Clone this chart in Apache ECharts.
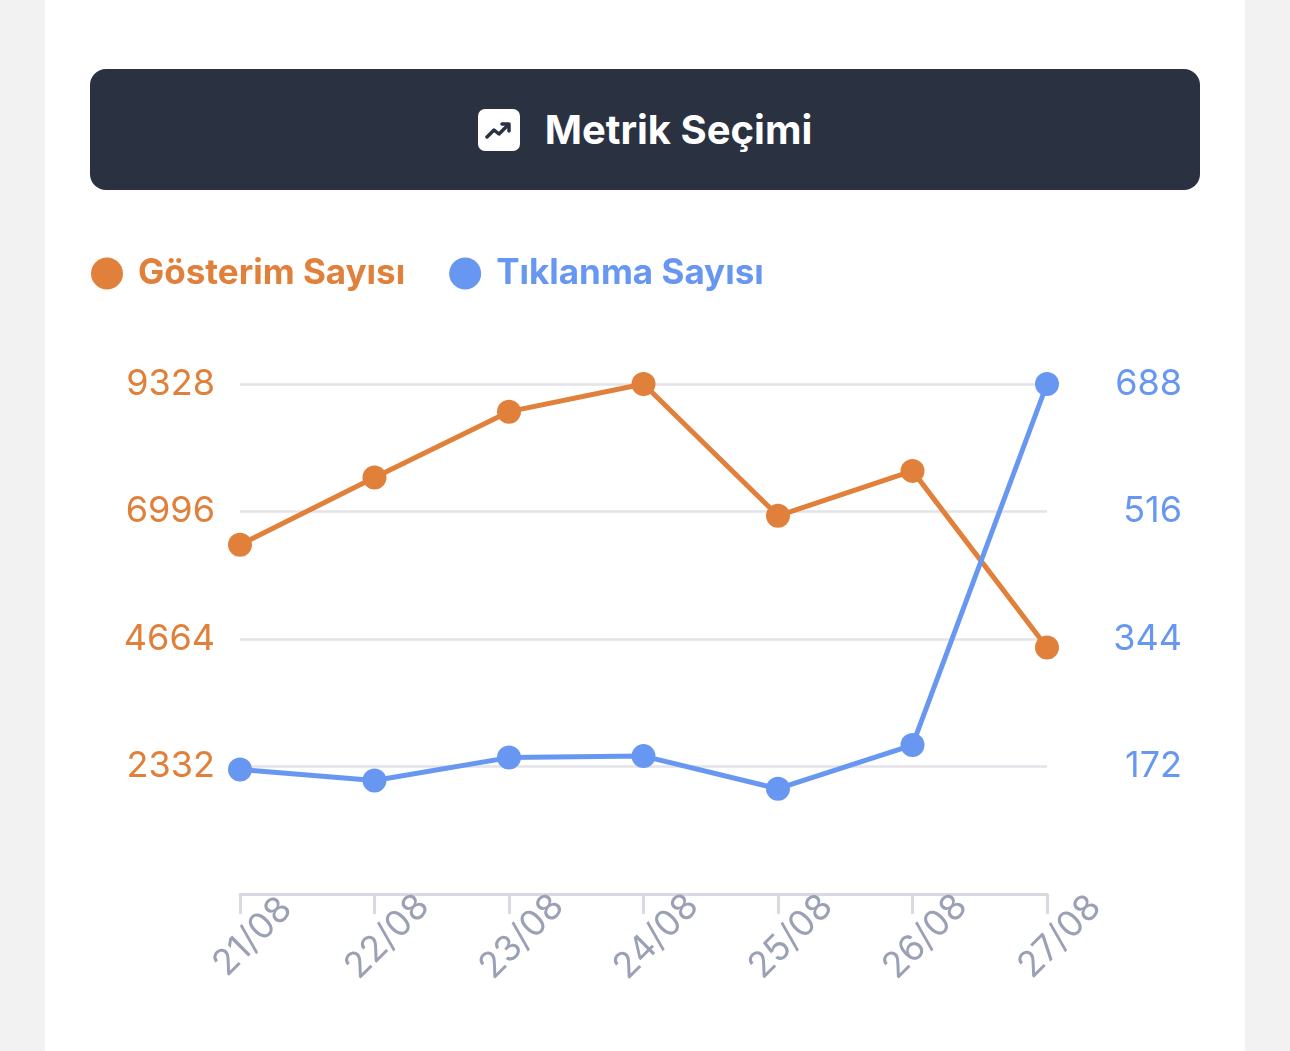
<!DOCTYPE html>
<html>
<head>
<meta charset="utf-8">
<script src="https://cdn.jsdelivr.net/npm/echarts@6/dist/echarts.min.js"></script>
<style>
  html, body { margin: 0; padding: 0; background: #f2f2f2; width: 1290px; height: 1051px; overflow: hidden; }
  .card { position: absolute; left: 45px; top: 0; width: 1200px; height: 1051px; background: #fff; }
  .header {
    position: absolute; left: 90px; top: 69px; width: 1110px; height: 121px;
    background: #2a3141; border-radius: 16px;
    display: flex; align-items: center; justify-content: center;
    font-family: Inter, "Noto Sans", sans-serif; font-weight: 700; font-size: 40px; color: #fff;
  }
  .header svg { margin-right: 25px; }
  #chart { position: absolute; left: 0; top: 0; width: 1290px; height: 1051px; }
</style>
</head>
<body>
<div class="card"></div>
<div class="header">
  <svg width="42" height="42" viewBox="0 0 42 42">
    <rect x="0" y="0" width="42" height="42" rx="7" fill="#fff"/>
    <polyline points="9,28 16,21 21,25 30,16" fill="none" stroke="#2a3141" stroke-width="3.5" stroke-linecap="round" stroke-linejoin="round"/>
    <polyline points="24,15 31,15 31,22" fill="none" stroke="#2a3141" stroke-width="3.5" stroke-linecap="round" stroke-linejoin="round"/>
  </svg>
  <span>Metrik Seçimi</span>
</div>
<div id="chart"></div>
<script>
// tarihler ve seriler
const dates = ['21/08', '22/08', '23/08', '24/08', '25/08', '26/08', '27/08']
const gosterim = [6388, 7617, 8822, 9328, 6917, 7739, 4507]
const tiklanma = [168, 153, 184, 186, 142, 201, 688]
const leftMax = 9328
const rightMax = 688

const orange = '#e0803a'
const blue = '#6897f2'

const chart = echarts.init(document.getElementById('chart'))
chart.setOption({
  animation: false,
  textStyle: { fontFamily: 'Inter, "Noto Sans", sans-serif' },
  legend: {
    left: 86, top: 251,
    icon: 'circle', itemWidth: 32, itemHeight: 32, itemGap: 44,
    textStyle: { fontSize: 35, fontWeight: 'bold', padding: [0, 0, 0, 10] },
    data: [
      { name: 'Gösterim Sayısı', textStyle: { color: orange } },
      { name: 'Tıklanma Sayısı', textStyle: { color: blue } }
    ]
  },
  grid: { left: 240, right: 243, top: 384, bottom: 157, containLabel: false },
  xAxis: {
    type: 'category', data: dates, boundaryGap: false,
    axisLine: { lineStyle: { color: '#d9d9e1', width: 3 } },
    axisTick: { alignWithLabel: true, length: 20, lineStyle: { color: '#d9d9e1', width: 3 } },
    axisLabel: {
      rotate: 45, align: 'center', verticalAlign: 'top', margin: 30,
      color: '#9aa1b5', fontSize: 36
    }
  },
  yAxis: [
    {
      type: 'value', min: 0, max: leftMax, interval: leftMax / 4, position: 'left',
      axisLine: { show: false }, axisTick: { show: false },
      axisLabel: { color: orange, fontSize: 36, margin: 25, showMinLabel: false, formatter: v => String(v) },
      splitLine: { lineStyle: { color: '#e3e3e9', width: 2.5 } }
    },
    {
      type: 'value', min: 0, max: rightMax, interval: rightMax / 4, position: 'right',
      axisLine: { show: false }, axisTick: { show: false },
      axisLabel: { color: blue, fontSize: 36, margin: 135, align: 'right', showMinLabel: false, formatter: v => String(v) },
      splitLine: { show: false }
    }
  ],
  series: [
    {
      name: 'Gösterim Sayısı', type: 'line', yAxisIndex: 0, data: gosterim,
      symbol: 'circle', symbolSize: 24,
      lineStyle: { color: orange, width: 5 }, itemStyle: { color: orange }
    },
    {
      name: 'Tıklanma Sayısı', type: 'line', yAxisIndex: 1, data: tiklanma,
      symbol: 'circle', symbolSize: 24,
      lineStyle: { color: blue, width: 5 }, itemStyle: { color: blue }
    }
  ]
})
</script>
</body>
</html>
